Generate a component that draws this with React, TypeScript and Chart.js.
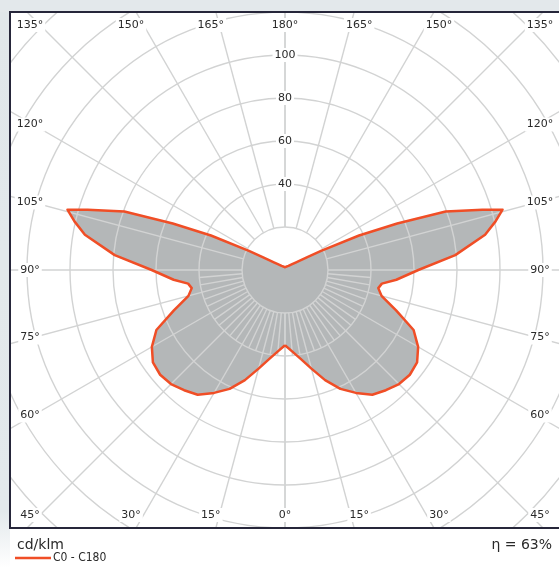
import React, { useEffect, useRef } from "react";
import { Chart, registerables } from "chart.js";

Chart.register(...registerables);

// gamma angles (degrees from nadir) and luminous intensity, cd/klm
const GAMMA = [0, 5, 10, 15, 20, 25, 30, 35, 40, 45, 50, 55, 60, 65, 70, 75, 79, 82, 85, 90, 95, 100, 103, 105.5, 107, 110, 112.5, 115, 118, 120, 125, 130, 140, 150, 165, 180];
const C0 = [35, 38, 42, 47.5, 54.5, 61, 66, 70.8, 73, 75, 75.8, 75, 71.5, 66, 55, 46.5, 44.2, 45.5, 52, 62, 79.5, 94.5, 100.5, 105, 96, 79.5, 56.5, 38, 19, 12, 6, 4, 2.5, 2, 1.5, 1.3];
const C180 = [35, 38, 42, 47.5, 54.5, 61, 66, 70.8, 73, 75, 75.8, 75, 71.5, 66, 55, 46.5, 44.2, 45.5, 52, 62, 79.5, 94.5, 100.5, 105, 96, 79.5, 56.5, 38, 19, 12, 6, 4, 2.5, 2, 1.5, 1.3];

const RING_VALUES = [20, 40, 60, 80, 100, 120, 140, 160, 180];
const RING_LABELS = [40, 60, 80, 100];
const ANGLE_TICKS = [0, 15, 30, 45, 60, 75, 90, 105, 120, 135, 150, 165, 180];
const UNIT_TEXT = "cd/klm";
const LEGEND_TEXT = "C0 - C180";
const EFFICIENCY_TEXT = "η = 63%";

const ORANGE = "#f04e26";
const FILL = "#b4b7b8";
const GRID = "#d2d3d3";
const TEXT = "#2a2a2a";

const rad = (d: number) => (d * Math.PI) / 180;

function buildShape() {
  const pts: { x: number; y: number }[] = [];
  for (let i = 0; i < GAMMA.length; i++) {
    const g = rad(GAMMA[i]);
    pts.push({ x: C0[i] * Math.sin(g), y: -C0[i] * Math.cos(g) });
  }
  for (let i = GAMMA.length - 1; i >= 0; i--) {
    const g = rad(GAMMA[i]);
    pts.push({ x: -C180[i] * Math.sin(g), y: -C180[i] * Math.cos(g) });
  }
  return pts;
}

const gridPlugin = {
  id: "polarGrid",
  beforeDraw(chart: any) {
    const { ctx, chartArea: a } = chart;
    ctx.save();
    ctx.fillStyle = "#ffffff";
    ctx.fillRect(0, 0, chart.width, chart.height);
    const g = ctx.createLinearGradient(0, 0, 0, chart.height);
    g.addColorStop(0, "#e1e7ea");
    g.addColorStop(0.9, "#e3e9ec");
    g.addColorStop(1, "#ffffff");
    ctx.fillStyle = g;
    ctx.fillRect(0, 0, a.left, chart.height);
    ctx.fillStyle = "#e3e8eb";
    ctx.fillRect(0, 0, chart.width, a.top);
    ctx.fillStyle = "#ffffff";
    ctx.fillRect(a.left, a.top, chart.width - a.left, a.bottom - a.top);
    ctx.restore();
  },
  afterDatasetDraw(chart: any, args: any) {
    if (args.index !== 1) return;
    const { ctx, chartArea: a, scales } = chart;
    const cx = scales.x.getPixelForValue(0);
    const cy = scales.y.getPixelForValue(0);
    const k = scales.x.getPixelForValue(1) - cx;
    ctx.save();
    ctx.beginPath();
    ctx.rect(a.left, a.top, a.right - a.left, a.bottom - a.top);
    ctx.clip();
    ctx.strokeStyle = GRID;
    ctx.lineWidth = 1.4;
    for (const r of RING_VALUES) {
      ctx.beginPath();
      ctx.arc(cx, cy, r * k, 0, Math.PI * 2);
      ctx.stroke();
    }
    const spoke = (gDeg: number, r0: number, r1: number) => {
      const g = rad(gDeg);
      for (const s of [1, -1]) {
        ctx.beginPath();
        ctx.moveTo(cx + s * r0 * k * Math.sin(g), cy + r0 * k * Math.cos(g));
        ctx.lineTo(cx + s * r1 * k * Math.sin(g), cy + r1 * k * Math.cos(g));
        ctx.stroke();
      }
    };
    for (const t of ANGLE_TICKS) spoke(t, RING_VALUES[0], 260);
    for (let t = 5; t < 90; t += 5) {
      if (t % 15 !== 0) spoke(t, RING_VALUES[0], RING_VALUES[1]);
    }
    ctx.restore();
  },
  afterDraw(chart: any) {
    const { ctx, chartArea: a, scales } = chart;
    const cx = scales.x.getPixelForValue(0);
    const cy = scales.y.getPixelForValue(0);
    const k = scales.x.getPixelForValue(1) - cx;
    ctx.save();

    const label = (text: string, x: number, y: number, font: string) => {
      ctx.font = font;
      const w = ctx.measureText(text).width;
      ctx.fillStyle = "#ffffff";
      ctx.fillRect(x - w / 2 - 2, y - 7, w + 4, 14);
      ctx.fillStyle = TEXT;
      ctx.textAlign = "center";
      ctx.textBaseline = "middle";
      ctx.fillText(text, x, y);
    };

    const aFont = "11px 'DejaVu Sans', Verdana, sans-serif";
    const topY = a.top + 13;
    const botY = a.bottom - 13;
    const leftX = cx - 255;
    const rightX = cx + 255;
    for (const t of ANGLE_TICKS) {
      const txt = t + "°";
      const sides = t === 0 || t === 180 ? [1] : [1, -1];
      for (const s of sides) {
        let x: number, y: number;
        if (t === 0 || t === 180) {
          x = cx;
          y = t === 0 ? botY : topY;
        } else if (t === 45 || t === 135) {
          x = s > 0 ? rightX : leftX;
          y = t === 45 ? botY : topY;
        } else if (t < 45 || t > 135) {
          const d = t < 45 ? t : 180 - t;
          const h = t < 45 ? a.bottom - cy : cy - a.top;
          x = cx + s * (h * Math.tan(rad(d)) + 5);
          y = t < 45 ? botY : topY;
        } else {
          const d = t - 90;
          x = s > 0 ? rightX : leftX;
          y = cy - (cx - (a.left + 23)) * Math.tan(rad(d));
        }
        label(txt, x, y, aFont);
      }
    }

    for (const r of RING_LABELS) {
      label(String(r), cx, cy - r * k, "11px 'DejaVu Sans', Verdana, sans-serif");
    }

    // frame
    ctx.strokeStyle = "#26263a";
    ctx.lineWidth = 2;
    ctx.strokeRect(a.left, a.top, a.right - a.left + 4, a.bottom - a.top);

    // bottom texts
    ctx.fillStyle = TEXT;
    ctx.textBaseline = "middle";
    ctx.textAlign = "left";
    ctx.font = "14px 'DejaVu Sans', Verdana, sans-serif";
    ctx.fillText(UNIT_TEXT, 17, 545);
    ctx.textAlign = "right";
    ctx.fillText(EFFICIENCY_TEXT, 552, 545);

    ctx.strokeStyle = ORANGE;
    ctx.lineWidth = 2.5;
    ctx.beginPath();
    ctx.moveTo(15, 558);
    ctx.lineTo(51, 558);
    ctx.stroke();
    ctx.fillStyle = TEXT;
    ctx.textAlign = "left";
    ctx.font = "12px 'DejaVu Sans Condensed', 'Liberation Sans Narrow', 'DejaVu Sans', sans-serif";
    ctx.fillText(LEGEND_TEXT, 53, 558);
    ctx.restore();
  },
};

export default function App() {
  const ref = useRef<HTMLCanvasElement | null>(null);
  useEffect(() => {
    document.body.style.margin = "0";
    if (!ref.current) return;
    const shape = buildShape();
    const chart = new Chart(ref.current, {
      type: "scatter",
      data: {
        datasets: [
          {
            label: LEGEND_TEXT,
            data: shape,
            showLine: true,
            fill: false,
            borderColor: ORANGE,
            borderWidth: 2.5,
            pointRadius: 0,
            tension: 0,
            borderJoinStyle: "round",
          } as any,
          {
            label: "fill",
            data: shape,
            showLine: true,
            fill: "shape",
            backgroundColor: FILL,
            borderWidth: 0,
            pointRadius: 0,
            tension: 0,
          } as any,
        ],
      },
      options: {
        animation: false,
        responsive: false,
        maintainAspectRatio: false,
        events: [],
        layout: { padding: { left: 10, top: 12, right: 0, bottom: 40 } },
        plugins: { legend: { display: false }, tooltip: { enabled: false }, title: { display: false } },
        scales: {
          x: { type: "linear", display: false, min: -275 / 2.15, max: 274 / 2.15 },
          y: { type: "linear", display: false, min: -120, max: 120 },
        },
      },
      plugins: [gridPlugin],
    });
    return () => chart.destroy();
  }, []);
  return (
    <div style={{ width: 559, height: 568, overflow: "hidden" }}>
      <canvas ref={ref} width={559} height={568} style={{ display: "block", width: 559, height: 568 }} />
    </div>
  );
}
